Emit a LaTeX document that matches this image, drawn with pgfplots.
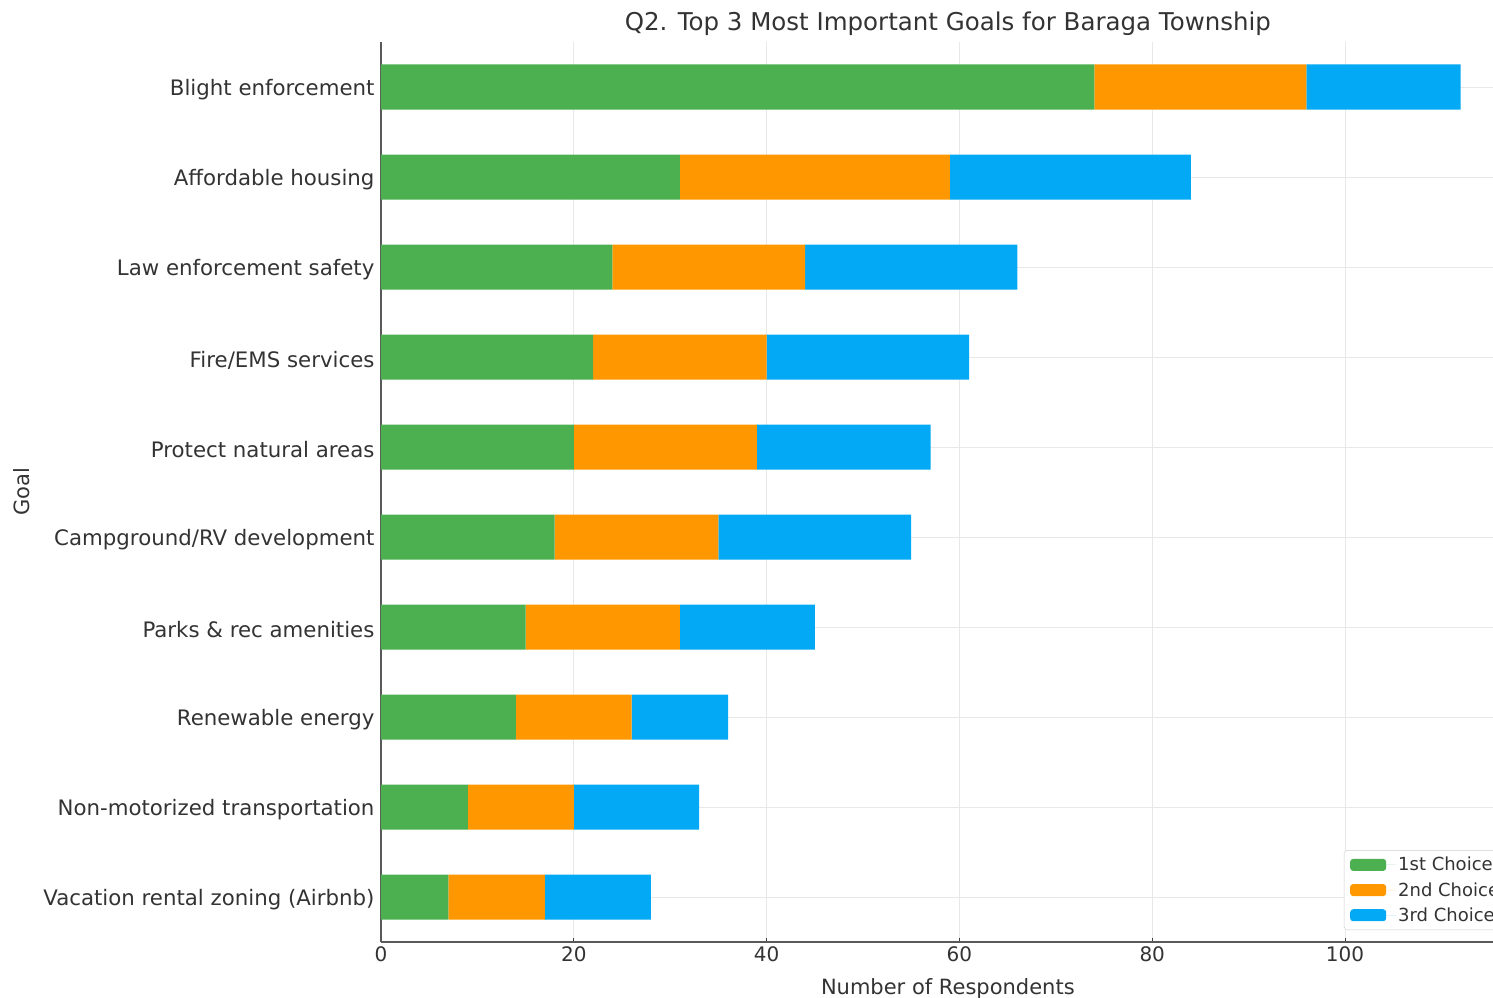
\documentclass[border=0pt]{standalone}
\usepackage{fontspec}
\setmainfont{DejaVu Sans}
\usepackage{pgfplots}
\pgfplotsset{compat=1.18}
\definecolor{c1}{HTML}{4CAF50}
\definecolor{c2}{HTML}{FF9800}
\definecolor{c3}{HTML}{03A9F4}
\definecolor{txt}{HTML}{333333}
\begin{document}
\begin{tikzpicture}
\begin{axis}[
  xbar stacked,
  scale only axis,
  width=1133.7pt, height=900pt,
  xmin=0, xmax=117.6,
  ymin=-0.5, ymax=9.5,
  bar width=45pt,
  ytick={0,...,9},
  yticklabels={Vacation rental zoning (Airbnb), Non-motorized transportation, Renewable energy, Parks \& rec amenities, Campground/RV development, Protect natural areas, Fire/EMS services, Law enforcement safety, Affordable housing, Blight enforcement},
  xtick={0,20,...,100},
  axis x line*=bottom, axis y line*=left,
  axis line style={black!65, line width=1.3pt},
  tick style={black!75, line width=1pt},
  major tick length=4pt,
  tick align=inside,
  grid=major,
  grid style={black!9, line width=0.9pt},
  /pgf/number format/assume math mode=true,
  xticklabel style={font=\fontsize{20}{24}\selectfont, text=txt, yshift=-1pt},
  yticklabel style={font=\fontsize{21.3}{25}\selectfont, text=txt, xshift=-3pt, yshift=-3pt},
  label style={font=\fontsize{21}{25}\selectfont, text=txt},
  xlabel={Number of Respondents},
  ylabel={Goal},
  xlabel style={yshift=-10pt},
  ylabel style={yshift=7pt},
  title={Q2. Top 3 Most Important Goals for Baraga Township},
  title style={font=\fontsize{24.5}{28}\selectfont, text=txt, yshift=-3pt},
  legend style={at={(rel axis cs:0.9935,0.0133)}, anchor=south east,
    draw=black!20, rounded corners=3pt, fill=white,
    font=\fontsize{18}{21}\selectfont, text=txt,
    row sep=6pt, inner xsep=6pt, inner ysep=5pt},
  legend cell align=left,
  legend image code/.code={\fill[#1] (0pt,-6pt) rectangle (36pt,6pt); \path (0pt,0pt) -- (46pt,0pt);},
]
\addplot[fill=c1, draw=none] coordinates {(7,0) (9,1) (14,2) (15,3) (18,4) (20,5) (22,6) (24,7) (31,8) (74,9)};
\addplot[fill=c2, draw=none] coordinates {(10,0) (11,1) (12,2) (16,3) (17,4) (19,5) (18,6) (20,7) (28,8) (22,9)};
\addplot[fill=c3, draw=none] coordinates {(11,0) (13,1) (10,2) (14,3) (20,4) (18,5) (21,6) (22,7) (25,8) (16,9)};
\legend{1st Choice, 2nd Choice, 3rd Choice}
\coordinate (SW) at (rel axis cs:0,0);
\end{axis}
\pgfresetboundingbox
\path[use as bounding box] ([shift={(-381pt,-55pt)}]SW) rectangle ([shift={(1112pt,942pt)}]SW);
\end{tikzpicture}
\end{document}
